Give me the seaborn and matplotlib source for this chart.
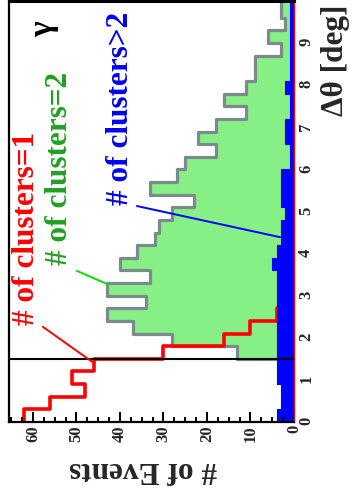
import numpy as np
import pandas as pd
import matplotlib
matplotlib.use("Agg")
import matplotlib.pyplot as plt
import seaborn as sns
from matplotlib.ticker import MultipleLocator

# ---------------- data ----------------
bin_width = 0.3
theta_edges = [round(0.3 * i, 2) for i in range(35)]  # 34 bins of 0.3 deg
theta_centers = [e + bin_width / 2 for e in theta_edges[:-1]]

clusters_1 = [62, 56, 48, 51, 46, 30, 16, 10, 4, 0, 0, 0, 0, 0, 0, 0, 0,
              0, 0, 0, 0, 0, 0, 0, 0, 0, 0, 0, 0, 0, 0, 0, 0, 0]
clusters_2 = [0, 0, 0, 0, 0, 13, 28, 37, 43, 34, 43, 33, 40, 36, 32, 31, 28,
              23, 33, 27, 25, 18, 22, 18, 11, 16, 11, 9, 9, 3, 6, 2, 3, 3]
clusters_gt2 = [4, 3, 3, 4, 4, 4, 4, 4, 4, 4, 4, 4, 5, 4, 3, 3, 2,
                3, 3, 3, 1, 1, 2, 2, 1, 1, 2, 1, 1, 1, 1, 1, 1, 1]

cut_value = 1.5
count_max = 65.5
theta_max = 10
count_ticks = [0, 10, 20, 30, 40, 50, 60]
theta_ticks = [0, 1, 2, 3, 4, 5, 6, 7, 8, 9]

label_1 = "# of clusters=1"
label_2 = "# of clusters=2"
label_3 = "# of clusters>2"

df = pd.DataFrame({"theta": theta_centers, "n1": clusters_1,
                   "n2": clusters_2, "n3": clusters_gt2})

# ---------------- style ----------------
sns.set_theme(style="white")
plt.rcParams["font.family"] = ["Liberation Serif", "DejaVu Serif"]
plt.rcParams["font.weight"] = "bold"

fig = plt.figure(figsize=(3.52, 4.89), dpi=100)
ax = fig.add_axes([9 / 352, 1 - 423 / 489, 285 / 352, 421 / 489])

RED = "#ff0000"
GREEN_FILL = "#86f086"
GRAY = "#7b8a8a"
BLUE = "#0000ff"

# green (clusters = 2): filled, gray outline
sns.histplot(data=df, y="theta", weights="n2", bins=theta_edges, element="step",
             fill=True, color=GREEN_FILL, facecolor=GREEN_FILL, edgecolor="none",
             alpha=1, ax=ax, zorder=1)
sns.histplot(data=df, y="theta", weights="n2", bins=theta_edges, element="step",
             fill=False, color=GRAY, linewidth=2.3, ax=ax, zorder=1.5)
# red (clusters = 1): outline only
sns.histplot(data=df, y="theta", weights="n1", bins=theta_edges, element="step",
             fill=False, color=RED, linewidth=2.6, ax=ax, zorder=2)
# blue (clusters > 2): filled
sns.histplot(data=df, y="theta", weights="n3", bins=theta_edges, element="step",
             fill=True, color=BLUE, facecolor=BLUE, edgecolor=BLUE, linewidth=0.8,
             alpha=1, ax=ax, zorder=3)

# selection cut on delta-theta (horizontal in this rotated layout)
ax.hlines(cut_value, count_max, 0, colors="black", lw=1.5, zorder=5)

ax.set_xlim(count_max, 0)
ax.set_ylim(0, theta_max)

# ticks
ax.set_xticks(count_ticks)
ax.set_xticklabels([str(t) for t in count_ticks])
ax.xaxis.set_minor_locator(MultipleLocator(2.5))
ax.tick_params(axis="x", which="major", direction="in", length=7, width=1.4,
               labelsize=12, labelrotation=90, pad=1.5, bottom=True, top=False,
               color="black")
ax.tick_params(axis="x", which="minor", direction="in", length=3.8, width=1.4,
               bottom=True, top=False, color="black")
ax.xaxis.set_zorder(6)

ax.yaxis.tick_right()
ax.set_yticks(theta_ticks)
ax.set_yticklabels([str(t) for t in theta_ticks])
ax.tick_params(axis="y", which="both", length=0, labelsize=12, labelrotation=90, pad=3)
for lab in ax.get_xticklabels() + ax.get_yticklabels():
    lab.set_fontweight("bold")

ax.set_xlabel("")
ax.set_ylabel("")

# spines
for side in ["left", "bottom"]:
    ax.spines[side].set_color("black")
    ax.spines[side].set_linewidth(1.6)
ax.spines["top"].set_color("black")
ax.spines["top"].set_linewidth(2.2)
ax.spines["right"].set_color(RED)
ax.spines["right"].set_linewidth(1.0)
for s in ax.spines.values():
    s.set_zorder(7)

# labels with pointer lines
txt_kw = dict(rotation=90, ha="center", va="bottom", fontsize=22.5, fontweight="bold")
ax.text(61.4, 2.33, label_1, color=RED, **txt_kw)
ax.text(53.8, 3.75, label_2, color="#22a022", **txt_kw)
ax.text(39.8, 5.18, label_3, color="#0000ee", **txt_kw)
ax.plot([57.7, 46.4], [2.26, 1.43], color=RED, lw=1.4, zorder=8)
ax.plot([49.9, 43.0], [3.59, 3.28], color="#00e000", lw=1.4, zorder=8)
ax.plot([36.1, 3.2], [5.13, 4.39], color=BLUE, lw=1.4, zorder=8)
ax.text(57.5, 9.35, "γ", rotation=90, ha="center", va="center", fontsize=24,
        fontweight="bold", color="black")

fig.text(335 / 352, 1 - 4 / 489, "Δθ [deg]", rotation=90, ha="center", va="top",
         fontsize=22.5, fontweight="bold")
fig.text(143 / 352, 1 - 470 / 489, "# of Events", rotation=180, ha="center",
         va="center", fontsize=22.5, fontweight="bold")

fig.savefig("out.png", dpi=100)
